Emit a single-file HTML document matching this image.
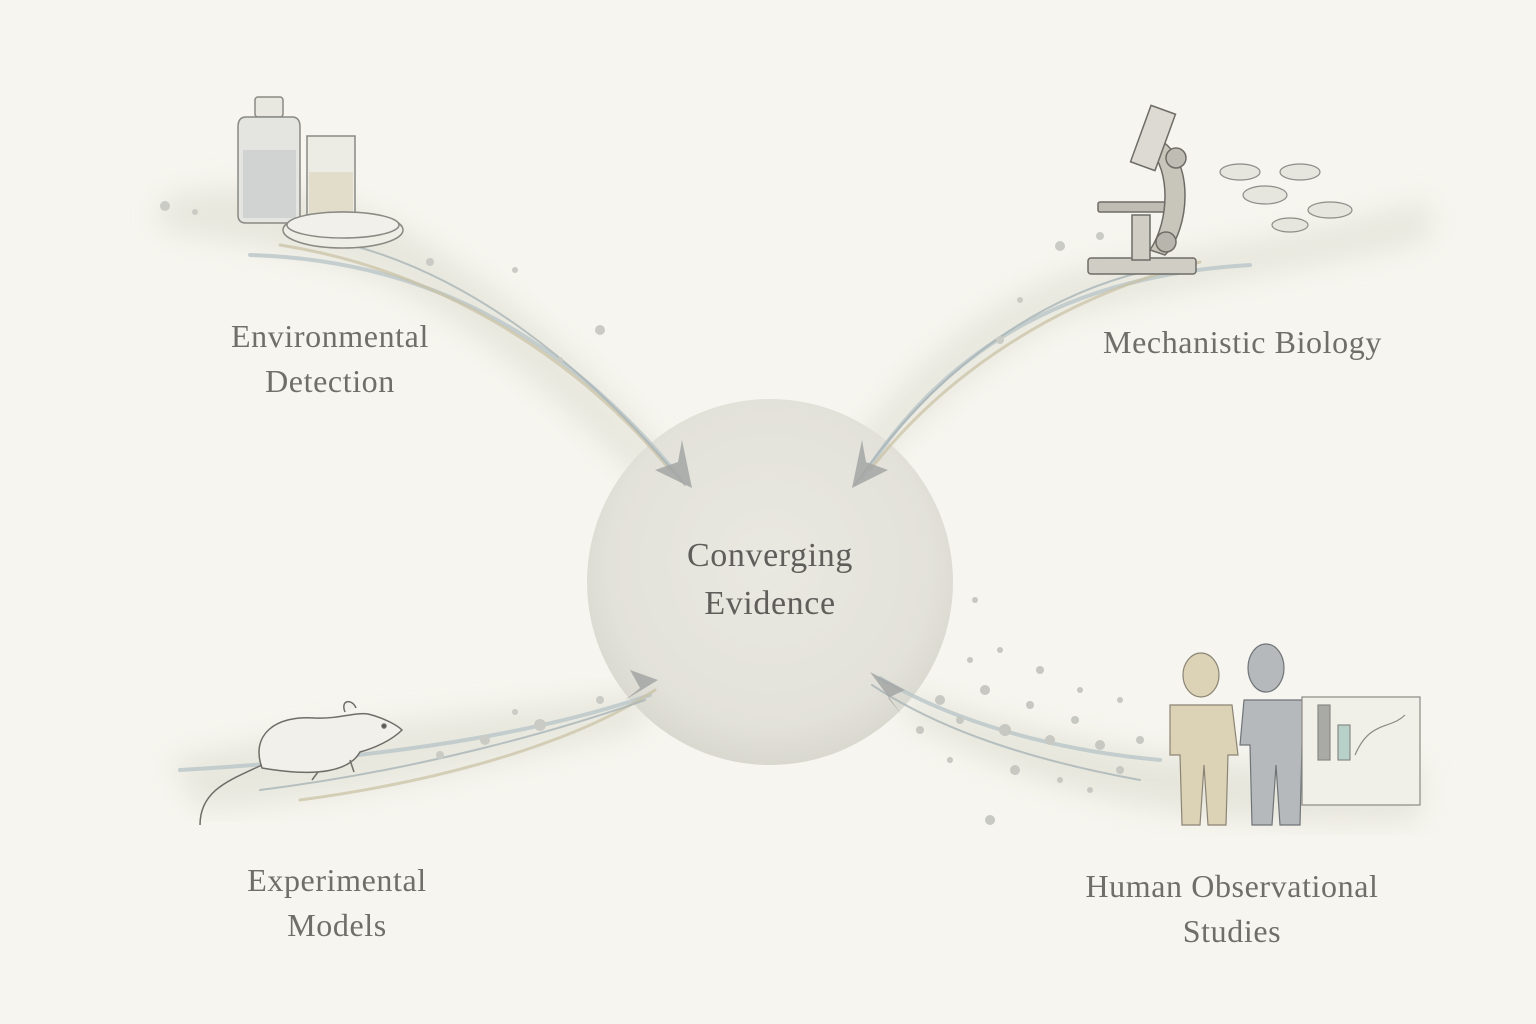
<!DOCTYPE html>
<html><head><meta charset="utf-8">
<style>
html,body{margin:0;padding:0;}
body{width:1536px;height:1024px;background:#f6f5ef;overflow:hidden;position:relative;font-family:"Liberation Serif",serif;}
.lbl{position:absolute;color:#6f6e69;font-size:32px;text-align:center;line-height:45px;letter-spacing:0.6px;}
svg{position:absolute;left:0;top:0;}
</style></head><body>
<svg width="1536" height="1024" viewBox="0 0 1536 1024">
<defs>
<radialGradient id="cg" cx="50%" cy="45%" r="55%">
<stop offset="0" stop-color="#e9e8e1"/><stop offset="0.8" stop-color="#e3e2da"/><stop offset="1" stop-color="#d9d8cf"/>
</radialGradient>
<filter id="bl"><feGaussianBlur stdDeviation="14"/></filter>
</defs>
<path d="M160 200 C260 170 360 200 420 240 C520 300 600 380 680 470 L640 480 C560 400 470 320 380 280 C300 250 220 240 160 230Z" fill="#dcdccf" opacity="0.55" filter="url(#bl)"/>
<path d="M1080 270 C1200 250 1330 230 1430 200 L1430 240 C1300 270 1150 290 1060 320 C980 360 920 420 870 470 L850 450 C900 380 980 300 1080 270Z" fill="#dcdccf" opacity="0.55" filter="url(#bl)"/>
<path d="M170 760 C300 730 450 720 650 690 L640 730 C500 760 360 800 200 810Z" fill="#dcdccf" opacity="0.55" filter="url(#bl)"/>
<path d="M1420 760 C1300 780 1100 760 900 690 L910 720 C1050 800 1200 830 1420 820Z" fill="#dcdccf" opacity="0.6" filter="url(#bl)"/>
<circle cx="770" cy="582" r="183" fill="url(#cg)"/>
<g fill="none" stroke-linecap="round">
<path d="M250 255 C420 260 560 330 680 478" stroke="#b9c6c8" stroke-width="4" opacity="0.8"/>
<path d="M280 245 C440 270 580 360 670 470" stroke="#c9c1a3" stroke-width="3" opacity="0.7"/>
<path d="M330 240 C470 270 590 370 685 485" stroke="#a9b4b6" stroke-width="2" opacity="0.8"/>
<path d="M1250 265 C1080 275 950 340 862 478" stroke="#b9c6c8" stroke-width="4" opacity="0.8"/>
<path d="M1200 262 C1050 300 940 380 870 470" stroke="#c9c1a3" stroke-width="3" opacity="0.7"/>
<path d="M1150 270 C1020 300 920 390 855 485" stroke="#a9b4b6" stroke-width="2" opacity="0.8"/>
<path d="M180 770 C350 760 520 740 650 695" stroke="#b9c6c8" stroke-width="4" opacity="0.8"/>
<path d="M300 800 C450 780 580 740 655 690" stroke="#c9c1a3" stroke-width="3" opacity="0.7"/>
<path d="M260 790 C420 770 560 730 645 700" stroke="#a9b4b6" stroke-width="2" opacity="0.8"/>
<path d="M1160 760 C1050 750 950 720 880 678" stroke="#b9c6c8" stroke-width="4" opacity="0.8"/>
<path d="M1140 780 C1030 760 940 730 872 685" stroke="#a9b4b6" stroke-width="2" opacity="0.8"/>
</g>
<g fill="#a3a6a4" opacity="0.85">
<path d="M692 488 L655 470 L678 462 L682 440Z"/>
<path d="M852 488 L888 470 L866 462 L862 440Z"/>
<path d="M658 680 L625 700 L640 688 L630 670Z"/>
<path d="M870 672 L905 690 L888 698 L902 715Z"/>
</g>
<g fill="#c9cbc4">
<circle cx="165" cy="206" r="5"/><circle cx="195" cy="212" r="3"/><circle cx="430" cy="262" r="4"/><circle cx="515" cy="270" r="3"/><circle cx="600" cy="330" r="5"/><circle cx="560" cy="360" r="3"/>
<circle cx="1060" cy="246" r="5"/><circle cx="1100" cy="236" r="4"/><circle cx="1000" cy="340" r="4"/><circle cx="1020" cy="300" r="3"/>
<circle cx="540" cy="725" r="6"/><circle cx="485" cy="740" r="5"/><circle cx="600" cy="700" r="4"/><circle cx="440" cy="755" r="4"/><circle cx="515" cy="712" r="3"/>
</g>
<g fill="#c6c8c1">
<circle cx="940" cy="700" r="5"/><circle cx="960" cy="720" r="4"/><circle cx="985" cy="690" r="5"/><circle cx="1005" cy="730" r="6"/><circle cx="1030" cy="705" r="4"/><circle cx="1050" cy="740" r="5"/><circle cx="1075" cy="720" r="4"/><circle cx="1100" cy="745" r="5"/><circle cx="1120" cy="770" r="4"/><circle cx="970" cy="660" r="3"/><circle cx="1000" cy="650" r="3"/><circle cx="1040" cy="670" r="4"/><circle cx="1080" cy="690" r="3"/><circle cx="1015" cy="770" r="5"/><circle cx="990" cy="820" r="5"/><circle cx="1060" cy="780" r="3"/><circle cx="950" cy="760" r="3"/><circle cx="1140" cy="740" r="4"/><circle cx="1090" cy="790" r="3"/><circle cx="920" cy="730" r="4"/><circle cx="975" cy="600" r="3"/><circle cx="1120" cy="700" r="3"/>
</g>
<g stroke="#8a8a84" stroke-width="1.5">
<rect x="255" y="97" width="28" height="20" rx="3" fill="#e8e7e0"/>
<path d="M246 117 h46 q8 0 8 10 v88 q0 8 -8 8 h-46 q-8 0 -8 -8 v-88 q0 -10 8 -10z" fill="#e4e5e1"/>
<rect x="243" y="150" width="53" height="68" fill="#d0d3d1" stroke="none"/>
<path d="M307 136 h48 v84 q0 5 -5 5 h-38 q-5 0 -5 -5z" fill="#ecebe4"/>
<rect x="309" y="172" width="44" height="50" fill="#e2dccb" stroke="none"/>
<ellipse cx="343" cy="230" rx="60" ry="18" fill="#eeede6"/>
<ellipse cx="343" cy="225" rx="56" ry="13" fill="#f1f0ea"/>
</g>
<g stroke="#6e6c66" stroke-width="1.5" fill="#cfcdc4">
<rect x="1088" y="258" width="108" height="16" rx="3"/>
<rect x="1132" y="215" width="18" height="45"/>
<rect x="1098" y="202" width="85" height="10" rx="2" fill="#bebcb3"/>
<path d="M1160 140 C1195 160 1190 230 1165 255 L1150 250 C1170 220 1170 170 1150 150Z" fill="#c8c5bb"/>
<rect x="1140" y="108" width="26" height="60" transform="rotate(20 1153 138)" fill="#dcdad2"/>
<circle cx="1176" cy="158" r="10" fill="#bfbdb3"/>
<circle cx="1166" cy="242" r="10" fill="#b8b6ac"/>
</g>
<g fill="#e6e6df" stroke="#8c8d88" stroke-width="1.2">
<ellipse cx="1240" cy="172" rx="20" ry="8"/><ellipse cx="1265" cy="195" rx="22" ry="9"/><ellipse cx="1300" cy="172" rx="20" ry="8"/><ellipse cx="1330" cy="210" rx="22" ry="8"/><ellipse cx="1290" cy="225" rx="18" ry="7"/>
</g>
<g stroke="#6e6d68" stroke-width="1.5" fill="#f1f0ea">
<path d="M262 768 C250 735 275 715 315 718 C340 719 355 712 368 714 C385 718 398 726 402 730 C392 740 375 748 360 752 C350 770 320 778 262 768Z"/>
<path d="M345 712 C340 700 352 698 356 708" />
<circle cx="384" cy="726" r="2" fill="#555"/>
<path d="M262 765 C230 780 200 790 200 825" fill="none"/>
<path d="M318 772 l-6 8 M350 760 l4 12" fill="none"/>
</g>
<g stroke="#8b8474" stroke-width="1.2">
<path d="M1183 675 a18 22 0 1 1 36 0 a18 22 0 1 1 -36 0z M1170 705 h62 l6 50 h-10 l-2 70 h-18 l-4 -60 l-4 60 h-18 l-2 -70 h-10z" fill="#dcd3b7"/>
</g>
<g stroke="#6f7478" stroke-width="1.2">
<path d="M1248 668 a18 24 0 1 1 36 0 a18 24 0 1 1 -36 0z M1244 700 h62 l6 45 h-10 l-2 80 h-20 l-4 -60 l-4 60 h-20 l-2 -80 h-10z" fill="#b6b9bc"/>
</g>
<g stroke="#8a8a85" stroke-width="1.2">
<rect x="1302" y="697" width="118" height="108" fill="#f0efe8"/>
<rect x="1318" y="705" width="12" height="55" fill="#a9aaa6"/>
<rect x="1338" y="725" width="12" height="35" fill="#b7d1c8"/>
<path d="M1355 755 C1370 720 1390 730 1405 715" fill="none"/>
</g>
</svg>
<div class="lbl" style="left:170px;top:314px;width:320px;">Environmental<br>Detection</div>
<div class="lbl" style="left:1050px;top:320px;width:385px;">Mechanistic Biology</div>
<div class="lbl" style="left:177px;top:858px;width:320px;">Experimental<br>Models</div>
<div class="lbl" style="left:1022px;top:864px;width:420px;">Human Observational<br>Studies</div>
<div class="lbl" style="left:620px;top:532px;width:300px;color:#5f5e5a;font-size:34px;line-height:48px;">Converging<br>Evidence</div>
</body></html>
